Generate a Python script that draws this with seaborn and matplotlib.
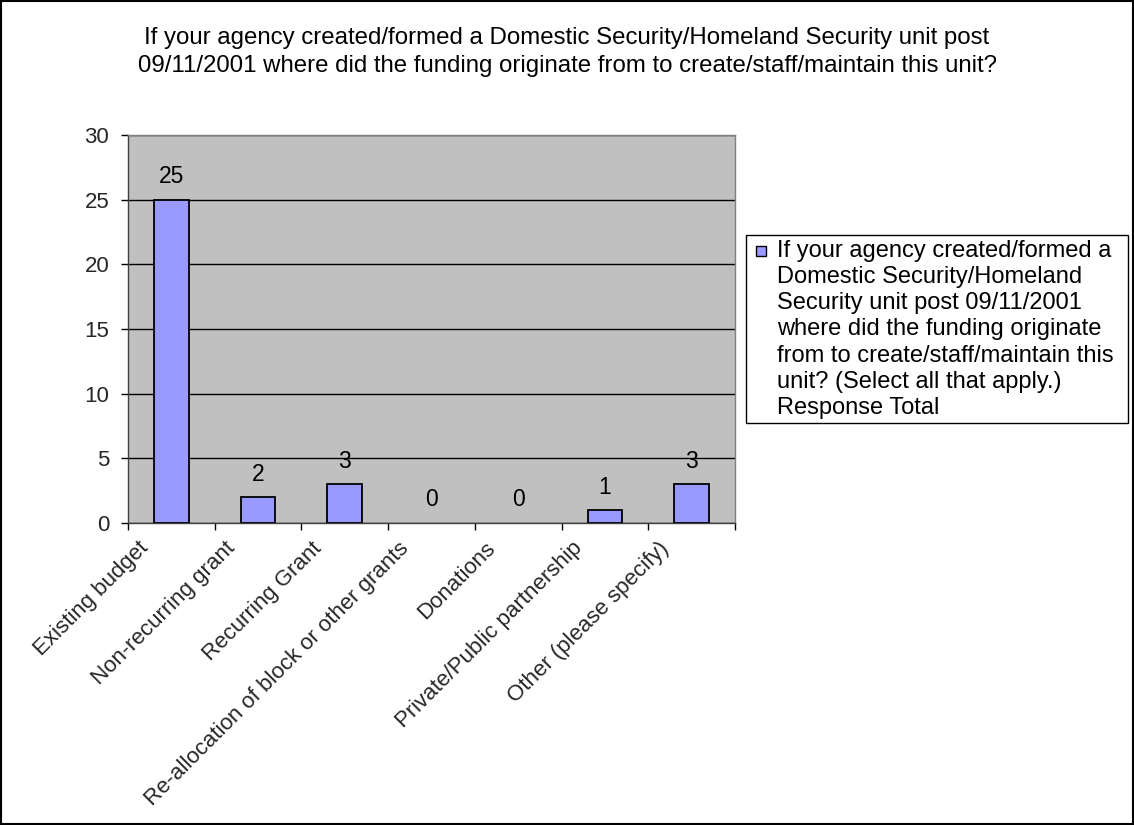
import matplotlib
matplotlib.use("Agg")
import matplotlib.pyplot as plt
import matplotlib.transforms as mtransforms
from matplotlib.patches import Rectangle
import seaborn as sns

# Survey responses: funding sources for a post-9/11 homeland security unit
categories = [
    "Existing budget",
    "Non-recurring grant",
    "Recurring Grant",
    "Re-allocation of block or other grants",
    "Donations",
    "Private/Public partnership",
    "Other (please specify)",
]
responses = [25, 2, 3, 0, 0, 1, 3]
y_ticks = [0, 5, 10, 15, 20, 25, 30]

chart_title = ("If your agency created/formed a Domestic Security/Homeland Security unit post\n"
               "09/11/2001 where did the funding originate from to create/staff/maintain this unit?")
series_label = ("If your agency created/formed a\nDomestic Security/Homeland\n"
                "Security unit post 09/11/2001\nwhere did the funding originate\n"
                "from to create/staff/maintain this\nunit? (Select all that apply.)\n"
                "Response Total")

BAR_COLOR = "#9999FF"

sns.set_style("white")
plt.rcParams["font.family"] = ["Liberation Sans", "DejaVu Sans"]

W, H = 1134, 825
fig = plt.figure(figsize=(W / 100, H / 100), dpi=100)
fig.patch.set_facecolor("white")


def fx(px):
    return px / W


def fy(py):
    return 1 - py / H


ax = fig.add_axes([fx(128), fy(523), (735 - 128) / W, (523 - 135) / H])
ax.set_facecolor("#C0C0C0")

sns.barplot(x=categories, y=responses, color=BAR_COLOR, saturation=1,
            edgecolor="black", linewidth=1.3, width=0.4, ax=ax, zorder=3)
# Empty categories get no outline sitting on the axis
for patch, v in zip(ax.patches, responses):
    if v == 0:
        patch.set_linewidth(0)

ax.set_ylim(0, 30)
ax.set_xlim(-0.5, len(categories) - 0.5)
ax.set_yticks(y_ticks)
ax.set_yticklabels([str(t) for t in y_ticks], fontsize=16)
ax.yaxis.grid(True, color="black", linewidth=1, zorder=1)
ax.set_axisbelow(True)
ax.set_xlabel("")
ax.set_ylabel("")

# Category labels under bars, tick marks at category boundaries
ax.set_xticks(range(len(categories)))
ax.set_xticklabels(categories, rotation=45, ha="right", rotation_mode="anchor",
                   va="center", fontsize=16)
ax.tick_params(axis="x", which="major", length=0, pad=16)
shift = mtransforms.ScaledTranslation(-26 / 100, 0, fig.dpi_scale_trans)
for lbl in ax.get_xticklabels():
    lbl.set_transform(lbl.get_transform() + shift)
ax.set_xticks([i - 0.5 for i in range(len(categories) + 1)], minor=True)
ax.tick_params(axis="x", which="minor", length=5, width=1, color="black",
               direction="out", bottom=True)
ax.tick_params(axis="y", length=5, width=1, color="black", direction="out",
               left=True, pad=8.5)

for side in ["top", "right"]:
    ax.spines[side].set_color("#808080")
    ax.spines[side].set_linewidth(1)
for side in ["left", "bottom"]:
    ax.spines[side].set_color("#404040")
    ax.spines[side].set_linewidth(1)

# Value labels above each bar
for i, v in enumerate(responses):
    ax.annotate(str(v), (i, v), xytext=(0, 23), textcoords="offset pixels",
                ha="center", va="center", fontsize=16.5, color="black")

# Two-line chart title
fig.text(0.5, fy(72), chart_title, ha="center", va="baseline",
         fontsize=17.3, linespacing=1.33, color="black")

# Legend box with swatch and wrapped series name
fig.add_artist(Rectangle((fx(746), fy(423)), (1128 - 746) / W, (423 - 235) / H,
                         transform=fig.transFigure, facecolor="white",
                         edgecolor="black", linewidth=1))
fig.add_artist(Rectangle((fx(756), fy(256)), 10 / W, 10 / H,
                         transform=fig.transFigure, facecolor=BAR_COLOR,
                         edgecolor="black", linewidth=1))
fig.text(fx(777), fy(414), series_label, ha="left", va="baseline",
         fontsize=17, linespacing=1.25, color="black")

# Outer chart border
fig.add_artist(Rectangle((0.001, 0.001), 0.998, 0.998, transform=fig.transFigure,
                         fill=False, edgecolor="black", linewidth=1.5))

fig.savefig("out.png", dpi=100)
